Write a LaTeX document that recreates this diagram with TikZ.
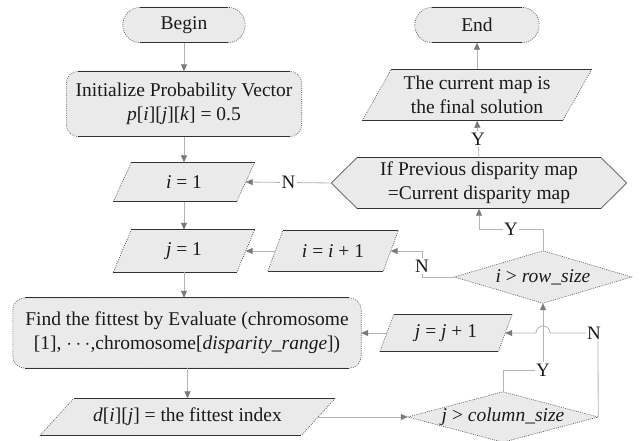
\documentclass[tikz,border=0pt]{standalone}
\usepackage{fontspec}
\setmainfont{Liberation Serif}
\usetikzlibrary{arrows.meta,calc,backgrounds}
\definecolor{boxfill}{HTML}{EAEAEA}
\definecolor{edgedark}{HTML}{333333}
\definecolor{edgedot}{HTML}{555555}
\definecolor{linegray}{HTML}{B4B4B4}
\definecolor{arrowgray}{HTML}{7A7A7A}
\definecolor{textc}{HTML}{1A1A1A}
\tikzset{
  base/.style={rectangle, inner sep=0pt, align=center, text=textc,
    font=\fontsize{19.5}{24}\selectfont},
  dotedge/.style={draw=edgedot, line width=0.6pt, dash pattern=on 1pt off 1.2pt},
  solidedge/.style={draw=edgedark, line width=0.9pt},
  conn/.style={draw=linegray, line width=0.8pt,
    -{Triangle[length=7pt,width=6pt,color=arrowgray]}},
  lbl/.style={fill=white, inner sep=1.5pt, text=textc,
    font=\fontsize{19}{22}\selectfont},
}
% parallelogram outline round a named rectangle node, slant #2
\newcommand\shpara[2]{%
  \fill[boxfill] (#1.south west) -- ([xshift=#2]#1.north west) -- (#1.north east) -- ([xshift=-#2]#1.south east) -- cycle;
  \draw[dotedge] (#1.south west) -- ([xshift=#2]#1.north west);
  \draw[dotedge] (#1.north east) -- ([xshift=-#2]#1.south east);
  \draw[solidedge] ([xshift=#2]#1.north west) -- (#1.north east);
  \draw[solidedge] (#1.south west) -- ([xshift=-#2]#1.south east);
}
\newcommand\shround[2]{%
  \fill[boxfill, rounded corners=#2] (#1.south west) rectangle (#1.north east);
  \draw[dotedge, rounded corners=#2] (#1.south west) rectangle (#1.north east);
  \draw[solidedge] ([xshift=#2]#1.north west) -- ([xshift=-#2]#1.north east);
  \draw[solidedge] ([xshift=#2]#1.south west) -- ([xshift=-#2]#1.south east);
}
\newcommand\shdiam[1]{%
  \fill[boxfill] (#1.west) -- (#1.north) -- (#1.east) -- (#1.south) -- cycle;
  \draw[dotedge] (#1.west) -- (#1.north) -- (#1.east) -- (#1.south) -- cycle;
}
\newcommand\shhex[2]{%
  \fill[boxfill] (#1.west) -- ([xshift=#2]#1.north west) -- ([xshift=-#2]#1.north east) -- (#1.east) -- ([xshift=-#2]#1.south east) -- ([xshift=#2]#1.south west) -- cycle;
  \draw[draw=edgedot, line width=0.7pt] ([xshift=#2]#1.north west) -- (#1.west) -- ([xshift=#2]#1.south west);
  \draw[draw=edgedot, line width=0.7pt] ([xshift=-#2]#1.north east) -- (#1.east) -- ([xshift=-#2]#1.south east);
  \draw[solidedge] ([xshift=#2]#1.north west) -- ([xshift=-#2]#1.north east);
  \draw[solidedge] ([xshift=#2]#1.south west) -- ([xshift=-#2]#1.south east);
}
\begin{document}
\begin{tikzpicture}[x=1pt,y=-1pt]
\useasboundingbox (0,0) rectangle (643,441);

% nodes
\node[base, minimum width=122pt, minimum height=35pt] (begin) at (184,25) {Begin};
\node[base, minimum width=235pt, minimum height=65pt] (init) at (184,104)
  {Initialize Probability Vector\\ \textit{p}[\textit{i}][\textit{j}][\textit{k}] = 0.5};
\node[base, minimum width=141pt, minimum height=39pt] (i1) at (184,182) {\textit{i} = 1};
\node[base, minimum width=141pt, minimum height=42pt] (j1) at (184,251) {\textit{j} = 1};
\node[base, minimum width=348pt, minimum height=70pt] (find) at (187,333)
  {Find the fittest by Evaluate (chromosome\\ {[1]}, $\cdots$,chromosome[\textit{disparity\_range}])};
\node[base, minimum width=295pt, minimum height=37pt] (d) at (187.5,417)
  {\textit{d}[\textit{i}][\textit{j}] = the fittest index};
\node[base, minimum width=190pt, minimum height=50pt] (jc) at (503,417)
  {\textit{j} > \textit{column\_size}};
\node[base, minimum width=132pt, minimum height=37pt] (jinc) at (446,333)
  {\textit{j} = \textit{j} + 1};
\node[base, minimum width=177pt, minimum height=52pt] (row) at (543,277)
  {\textit{i} > \textit{row\_size}};
\node[base, minimum width=130pt, minimum height=40pt] (iinc) at (333,251)
  {\textit{i} = \textit{i} + 1};
\node[base, minimum width=295pt, minimum height=51pt] (hex) at (479,183)
  {If Previous disparity map\\ =Current disparity map};
\node[base, minimum width=229pt, minimum height=51pt] (final) at (477,95)
  {The current map is\\ the final solution};
\node[base, minimum width=124pt, minimum height=35pt] (end) at (477,25) {End};

\begin{scope}[on background layer]
  \fill[white] (0,0) rectangle (643,441);
  \shround{begin}{17.5pt}
  \shround{init}{12pt}
  \shpara{i1}{18pt}
  \shpara{j1}{18pt}
  \shround{find}{12pt}
  \shpara{d}{34pt}
  \shdiam{jc}
  \shpara{jinc}{14pt}
  \shdiam{row}
  \shpara{iinc}{15pt}
  \shhex{hex}{26pt}
  \shpara{final}{29pt}
  \shround{end}{17.5pt}
\end{scope}

% corner coordinates
\coordinate (yc1) at (543,370);
\coordinate (nc1) at (598,333);
\coordinate (nc2) at (422,251);
\coordinate (yc2) at (543,229);

% connectors
\draw[conn] (begin.south) -- (init.north);
\draw[conn] (init.south) -- (i1.north);
\draw[conn] (i1.south) -- (j1.north);
\draw[conn] (j1.south) -- (j1.south |- find.north);
\draw[conn] (find.south -| d.north) -- (d.north);
\draw[conn] ($(d.east)+(-17,0)$) -- (jc.west);
\draw[conn] ($(jinc.west)+(7,0)$) -- (find.east);
\draw[conn] ($(iinc.west)+(7.5,0)$) -- ($(j1.east)+(-9,0)$);
\draw[conn] (end.south |- final.north) -- (end.south);

% j > column_size : Y
\draw[conn] (jc.north) |- (yc1) -- (row.south);
\node[lbl] at (yc1) {Y};
% j > column_size : N (hops over the Y line)
\draw[conn] (jc.east) -- (nc1) -- (550,333) arc (0:180:7pt) -- ($(jinc.east)+(-7,0)$);
\node[lbl] at ([xshift=-4pt]nc1) {N};

% i > row_size : N
\draw[conn] (row.west) -| (nc2) -- ($(iinc.east)+(-7.5,0)$);
\node[lbl] at (422,266) {N};
% i > row_size : Y
\draw[conn] (row.north) -- (yc2) -- node[lbl, pos=0.5]{Y} (yc2 -| hex.south) -- (hex.south);

% hexagon decisions
\draw[conn] (hex.west) -- node[lbl]{N} ($(i1.east)+(-9,0)$);
\draw[conn] (hex.north) -- node[lbl]{Y} (final.south);
\end{tikzpicture}
\end{document}
